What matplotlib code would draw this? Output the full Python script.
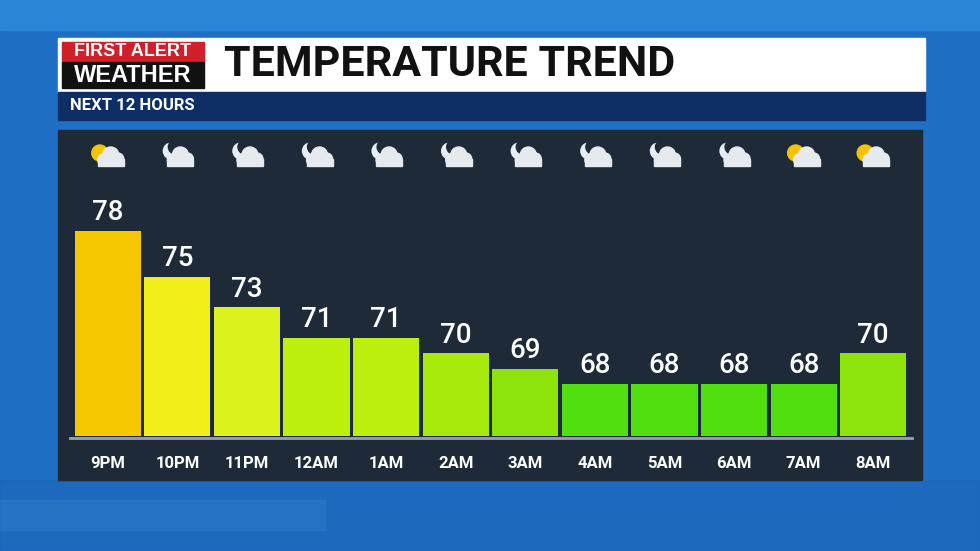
import matplotlib.pyplot as plt
from matplotlib.patches import Rectangle, Circle

hours = ["9PM", "10PM", "11PM", "12AM", "1AM", "2AM", "3AM", "4AM", "5AM", "6AM", "7AM", "8AM"]
temps = [78, 75, 73, 71, 71, 70, 69, 68, 68, 68, 68, 70]
icons = ["sun", "moon", "moon", "moon", "moon", "moon", "moon", "moon", "moon", "moon", "sun", "sun"]
colors = ["#f5c800", "#f2ee18", "#dcf21c", "#bdef0c", "#bdef0c", "#a6e90a",
          "#8ce40a", "#52df10", "#52df10", "#52df10", "#52df10", "#8ce40a"]

W, H = 980, 551
fig = plt.figure(figsize=(W / 100, H / 100), dpi=100)
bg = fig.add_axes([0, 0, 1, 1])
bg.set_xlim(0, W)
bg.set_ylim(H, 0)
bg.axis("off")

# blue backdrop
bg.add_patch(Rectangle((0, 0), W, H, color="#1f6fc4"))
bg.add_patch(Rectangle((0, 0), W, 30, color="#2a85d8"))
bg.add_patch(Rectangle((0, 500), 325, 30, color="#3a8fd8", alpha=0.6))
bg.add_patch(Rectangle((0, 480), W, 71, color="#1c64b8", alpha=0.5))

# header
bg.add_patch(Rectangle((58, 38), 867, 54, color="white"))
bg.add_patch(Rectangle((62, 42), 142, 20, color="#d0202a"))
bg.add_patch(Rectangle((62, 62), 142, 26, color="#111111"))
bg.text(133, 52, "FIRST ALERT", color="white", fontsize=13, fontweight="bold",
        ha="center", va="center", family="Liberation Sans")
bg.text(133, 75, "WEATHER", color="white", fontsize=17, fontweight="bold",
        ha="center", va="center", family="Liberation Sans")
bg.text(224, 65, "TEMPERATURE TREND", color="#111111", fontsize=31, fontweight="bold",
        ha="left", va="center", family="Roboto")
bg.add_patch(Rectangle((58, 92), 867, 28, color="#0d2f66"))
bg.text(70, 106, "NEXT 12 HOURS", color="white", fontsize=12, fontweight="bold",
        ha="left", va="center", family="Roboto")

# chart panel
bg.add_patch(Rectangle((58, 130), 864, 350, color="#1f2a38"))
bg.plot([70, 912], [438, 438], color="#9aa3ad", lw=2)

# chart axes placed in pixel space
x0, x1, ytop, ybase = 73, 908, 140, 436
ax = fig.add_axes([x0 / W, 1 - ybase / H, (x1 - x0) / W, (ybase - ytop) / H])
ax.set_xlim(-0.5, len(hours) - 0.5)
lo = 64.6
scale = 15.3
ax.set_ylim(lo, lo + (ybase - ytop) / scale)
ax.axis("off")
ax.patch.set_alpha(0)
xs = list(range(len(hours)))
ax.bar(xs, [t - lo for t in temps], bottom=lo, width=0.95, color=colors)
for x, t in zip(xs, temps):
    ax.text(x, t + 0.3, str(t), ha="center", va="bottom", color="white",
            fontsize=20, fontweight="medium", family="Roboto")

pitch = (x1 - x0) / len(hours)
for i, (h, ic) in enumerate(zip(hours, icons)):
    cx = x0 + pitch * (i + 0.5)
    bg.text(cx, 463, h, ha="center", va="center", color="white", fontsize=12,
            fontweight="bold", family="Roboto")
    # weather icon
    if ic == "sun":
        bg.add_patch(Circle((cx - 8, 153), 8, color="#f5c400", zorder=3))
    else:
        bg.add_patch(Circle((cx - 6, 151), 8, color="#e8eef5", zorder=3))
        bg.add_patch(Circle((cx - 2, 147), 7, color="#1f2a38", zorder=3))
    for dx, dy, r in [(-4, 160, 6), (3, 155, 8), (10, 159, 6)]:
        bg.add_patch(Circle((cx + dx, dy), r, color="#e6e9ee", zorder=4))
    bg.add_patch(Rectangle((cx - 10, 159), 26, 7, color="#e6e9ee", zorder=4))

fig.savefig("out.png", dpi=100)
